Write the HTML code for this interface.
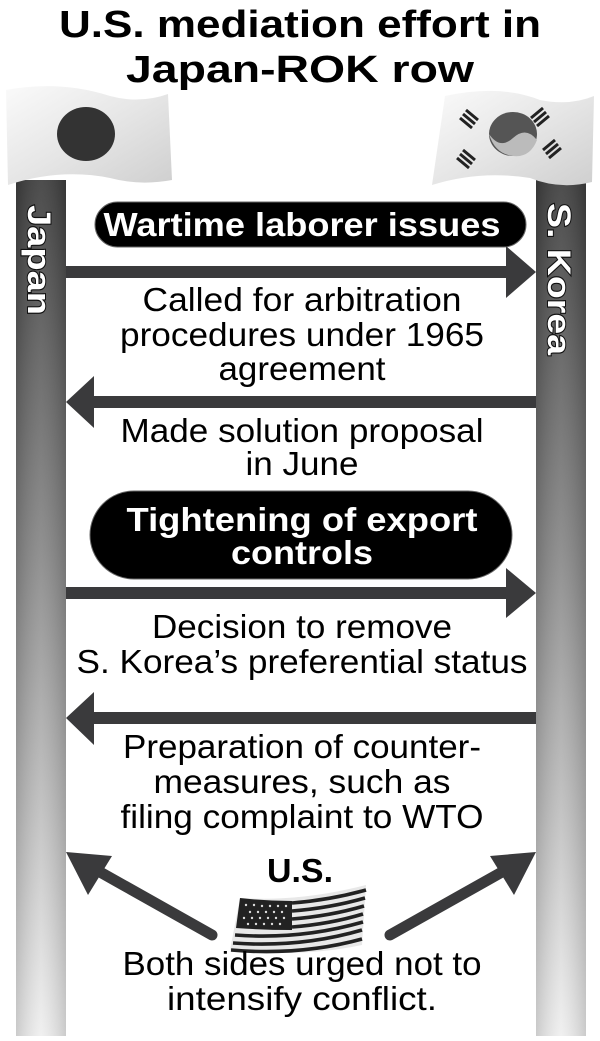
<!DOCTYPE html>
<html><head><meta charset="utf-8"><style>
html,body{margin:0;padding:0;background:#fff}
svg{display:block}
text{font-family:"Liberation Sans",Arial,sans-serif}
</style></head><body>
<svg width="600" height="1041" viewBox="0 0 600 1041" xmlns="http://www.w3.org/2000/svg">
<defs>
<linearGradient id="pil" x1="0" y1="0" x2="0" y2="1">
<stop offset="0" stop-color="#3e3e3e"/><stop offset="0.45" stop-color="#8a8a8a"/><stop offset="1" stop-color="#efefef"/>
</linearGradient>
<linearGradient id="pilh" x1="0" y1="0" x2="1" y2="0">
<stop offset="0" stop-color="#000" stop-opacity="0.15"/><stop offset="0.5" stop-color="#fff" stop-opacity="0.08"/><stop offset="1" stop-color="#000" stop-opacity="0.15"/>
</linearGradient>
<linearGradient id="flag" x1="0" y1="0" x2="1" y2="1">
<stop offset="0" stop-color="#fafafa"/><stop offset="0.5" stop-color="#e6e6e6"/><stop offset="1" stop-color="#cfcfcf"/>
</linearGradient>
</defs>
<rect width="600" height="1041" fill="#fff"/>
<text x="300" y="37" text-anchor="middle" font-size="38" font-weight="bold" textLength="482" lengthAdjust="spacingAndGlyphs">U.S. mediation effort in</text>
<text x="300" y="82" text-anchor="middle" font-size="38" font-weight="bold" textLength="348" lengthAdjust="spacingAndGlyphs">Japan-ROK row</text>
<rect x="16" y="180" width="50" height="856" fill="url(#pil)"/>
<rect x="16" y="180" width="50" height="856" fill="url(#pilh)"/>
<rect x="536" y="180" width="50" height="856" fill="url(#pil)"/>
<rect x="536" y="180" width="50" height="856" fill="url(#pilh)"/>
<path d="M6,90 Q60,80 110,96 Q140,104 168,94 L172,180 Q140,186 110,178 Q60,168 8,185 Z" fill="url(#flag)"/>
<ellipse cx="86" cy="134" rx="29" ry="27" fill="#333"/>
<path d="M445,96 Q500,84 540,100 Q570,106 594,96 L592,182 Q560,190 530,178 Q480,170 432,185 Z" fill="url(#flag)"/>
<ellipse cx="513" cy="134" rx="24" ry="22" fill="#555"/>
<path d="M489,134 Q500,150 513,138 Q526,126 537,140 Q530,158 513,156 Q495,154 489,134Z" fill="#bbb"/>
<g stroke="#222" stroke-width="3">
<path d="M466,110 l12,10 M463,114 l12,10 M460,118 l12,10"/>
<path d="M543,108 l-12,10 M546,112 l-12,10 M549,116 l-12,10"/>
<path d="M463,150 l12,10 M460,154 l12,10 M457,158 l12,10"/>
<path d="M543,150 l12,-10 M546,154 l12,-10 M549,158 l12,-10"/>
</g>
<text transform="translate(28,205) rotate(90)" font-size="32" font-weight="bold" fill="#fff" stroke="#111" stroke-width="2" paint-order="stroke" textLength="110" lengthAdjust="spacingAndGlyphs">Japan</text>
<text transform="translate(548,203) rotate(90)" font-size="32" font-weight="bold" fill="#fff" stroke="#111" stroke-width="2" paint-order="stroke" textLength="152" lengthAdjust="spacingAndGlyphs">S. Korea</text>
<rect x="95" y="202" width="431" height="45" rx="22.5" fill="#000" stroke="#666" stroke-width="1"/>
<text x="302" y="236" text-anchor="middle" font-size="33" fill="#fff" font-weight="bold" textLength="397" lengthAdjust="spacingAndGlyphs">Wartime laborer issues</text>
<rect x="66" y="266" width="442" height="12" fill="#3a3a3c"/>
<polygon points="506,246 536,272 506,298" fill="#3a3a3c"/>
<g font-size="33" text-anchor="middle" lengthAdjust="spacingAndGlyphs">
<text x="302" y="311" textLength="319" lengthAdjust="spacingAndGlyphs">Called for arbitration</text>
<text x="302" y="346" textLength="364" lengthAdjust="spacingAndGlyphs">procedures under 1965</text>
<text x="302" y="380" textLength="167" lengthAdjust="spacingAndGlyphs">agreement</text>
</g>
<rect x="94" y="396" width="442" height="12" fill="#3a3a3c"/>
<polygon points="94,376 66,402 94,428" fill="#3a3a3c"/>
<g font-size="33" text-anchor="middle">
<text x="302" y="442" textLength="363" lengthAdjust="spacingAndGlyphs">Made solution proposal</text>
<text x="302" y="475" textLength="113" lengthAdjust="spacingAndGlyphs">in June</text>
</g>
<rect x="90" y="491" width="422" height="88" rx="44" fill="#000" stroke="#666" stroke-width="1"/>
<text x="302" y="531" text-anchor="middle" font-size="33" font-weight="bold" fill="#fff" textLength="351" lengthAdjust="spacingAndGlyphs">Tightening of export</text>
<text x="302" y="564" text-anchor="middle" font-size="33" font-weight="bold" fill="#fff" textLength="142" lengthAdjust="spacingAndGlyphs">controls</text>
<rect x="66" y="587" width="442" height="12" fill="#3a3a3c"/>
<polygon points="506,568 536,593 506,618" fill="#3a3a3c"/>
<g font-size="33" text-anchor="middle">
<text x="302" y="638" textLength="300" lengthAdjust="spacingAndGlyphs">Decision to remove</text>
<text x="302" y="673" textLength="451" lengthAdjust="spacingAndGlyphs">S. Korea’s preferential status</text>
</g>
<rect x="94" y="712" width="442" height="12" fill="#3a3a3c"/>
<polygon points="94,692 66,718 94,745" fill="#3a3a3c"/>
<g font-size="33" text-anchor="middle">
<text x="302" y="758" textLength="358" lengthAdjust="spacingAndGlyphs">Preparation of counter-</text>
<text x="302" y="793" textLength="297" lengthAdjust="spacingAndGlyphs">measures, such as</text>
<text x="302" y="828" textLength="363" lengthAdjust="spacingAndGlyphs">filing complaint to WTO</text>
</g>
<text x="300" y="882" text-anchor="middle" font-size="33" font-weight="bold" textLength="66" lengthAdjust="spacingAndGlyphs">U.S.</text>
<line x1="212" y1="935" x2="100" y2="872" stroke="#3a3a3c" stroke-width="11" stroke-linecap="round"/>
<polygon points="66,852 112,856 88,895" fill="#3a3a3c"/>
<line x1="390" y1="935" x2="502" y2="872" stroke="#3a3a3c" stroke-width="11" stroke-linecap="round"/>
<polygon points="536,852 490,856 514,895" fill="#3a3a3c"/>
<g>
<path d="M240,898 Q300,902 366,885 L362,945 Q300,958 230,950 Z" fill="#e8e8e8"/>
<g stroke="#222" stroke-width="3.6" fill="none">
<path d="M292,903 Q330,900 366,890"/>
<path d="M292,911 Q330,908 365,898"/>
<path d="M292,919 Q330,916 364,906"/>
<path d="M292,927 Q330,924 363,914"/>
<path d="M235,935 Q300,940 363,922"/>
<path d="M233,943 Q300,948 362,930"/>
<path d="M231,950 Q300,956 362,939"/>
</g>
<path d="M240,898 Q266,901 292,901 L292,930 Q264,930 236,928 Z" fill="#222"/>
<g fill="#ddd">
<circle cx="246" cy="905" r="1.2"/><circle cx="254" cy="905" r="1.2"/><circle cx="262" cy="906" r="1.2"/><circle cx="270" cy="906" r="1.2"/><circle cx="278" cy="906" r="1.2"/><circle cx="286" cy="906" r="1.2"/>
<circle cx="250" cy="912" r="1.2"/><circle cx="258" cy="912" r="1.2"/><circle cx="266" cy="912" r="1.2"/><circle cx="274" cy="912" r="1.2"/><circle cx="282" cy="912" r="1.2"/>
<circle cx="244" cy="918" r="1.2"/><circle cx="252" cy="918" r="1.2"/><circle cx="260" cy="918" r="1.2"/><circle cx="268" cy="918" r="1.2"/><circle cx="276" cy="918" r="1.2"/><circle cx="284" cy="918" r="1.2"/>
<circle cx="248" cy="924" r="1.2"/><circle cx="256" cy="924" r="1.2"/><circle cx="264" cy="924" r="1.2"/><circle cx="272" cy="924" r="1.2"/><circle cx="280" cy="924" r="1.2"/>
</g>
</g>
<g font-size="33" text-anchor="middle">
<text x="302" y="975" textLength="359" lengthAdjust="spacingAndGlyphs">Both sides urged not to</text>
<text x="302" y="1010" textLength="270" lengthAdjust="spacingAndGlyphs">intensify conflict.</text>
</g>
</svg>
</body></html>
